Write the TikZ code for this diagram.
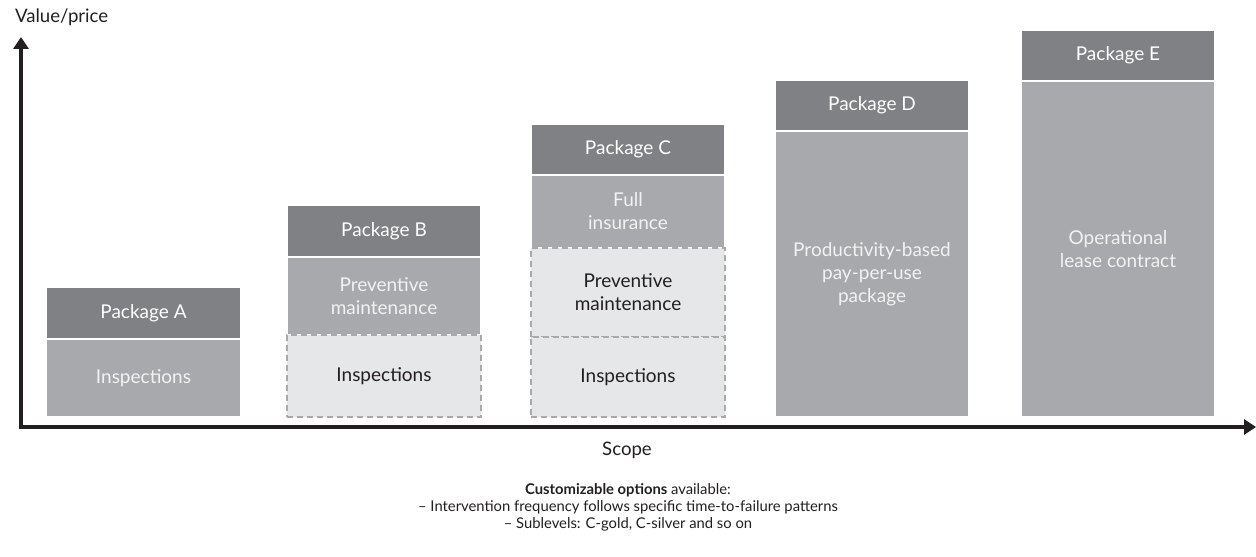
\documentclass[tikz,border=0pt]{standalone}
\usepackage{fontspec}
\setmainfont{Lato}
\usepackage{tikz}
\usetikzlibrary{arrows.meta}
\definecolor{pkgdark}{HTML}{808184}
\definecolor{pkgmid}{HTML}{A7A9AC}
\definecolor{pkglight}{HTML}{E6E7E8}
\definecolor{axisink}{HTML}{231F20}
\tikzset{
  pkghead/.style={rectangle,inner sep=0pt,minimum width=97pt,fill=pkgdark,draw=white,line width=0.6pt,text=white,font=\fontsize{9.5}{11.5}\selectfont},
  pkgbody/.style={pkghead,fill=pkgmid,text=white!95!black,align=center},
  pkgbase/.style={rectangle,inner sep=0pt,minimum width=97pt,fill=pkglight,draw=pkgmid,dash pattern=on 3pt off 2pt,line width=0.6pt,text=axisink,align=center,font=\fontsize{9.5}{11.5}\selectfont},
  axisline/.style={draw=axisink,line width=1.6pt,{Triangle[length=6pt,width=7.5pt]}-{Triangle[length=6pt,width=7.5pt]}},
  plaintext/.style={text=axisink,font=\fontsize{9.3}{11}\selectfont},
  notetext/.style={text=axisink,align=center,font=\fontsize{7.4}{8.5}\selectfont}
}
\begin{document}
\begin{tikzpicture}[x=0.5pt,y=-0.5pt]
  \useasboundingbox (0,0) rectangle (1256,556);

  % axes
  \coordinate (ytop) at (21,37);
  \coordinate (origin) at (21,427);
  \coordinate (xend) at (1256,427);
  \draw[axisline] (ytop) -- (origin) -- (xend);
  \node[plaintext,anchor=west] (ylabel) at (8,17) {Value/price};
  \node[plaintext] (xlabel) at (627,450) {Scope};

  % package A
  \node[pkghead,minimum height=26pt] (headA) at (143.5,313) {Package A};
  \node[pkgbody,minimum height=39pt] (bodyA) at (143.5,378) {Inspections};

  % package B
  \node[pkghead,minimum height=26pt] (headB) at (384,231) {Package B};
  \node[pkgbody,minimum height=39pt] (prevB) at (384,296) {Preventive\\maintenance};
  \node[pkgbase,minimum height=41pt] (inspB) at (384,376) {Inspections};

  % package C
  \node[pkghead,minimum height=25.5pt] (headC) at (628,149.5) {Package C};
  \node[pkgbody,minimum height=36.5pt] (fullC) at (628,211.5) {Full\\insurance};
  \node[pkgbase,minimum height=44.5pt] (prevC) at (628,292.5) {Preventive\\maintenance};
  \node[pkgbase,minimum height=40pt] (inspC) at (628,377) {Inspections};

  % package D
  \node[pkghead,minimum height=25.5pt] (headD) at (872,105.5) {Package D};
  \node[pkgbody,minimum height=143pt] (bodyD) at (872,274) {Productivity-based\\pay-per-use\\package};

  % package E
  \node[pkghead,minimum height=25.5pt] (headE) at (1118,55.5) {Package E};
  \node[pkgbody,minimum height=168pt] (bodyE) at (1118,249) {Operational\\lease contract};

  % options
  \node[notetext] (options) at (628,507) {\textbf{Customizable options} available:\\
    – Intervention frequency follows specific time-to-failure patterns\\
    – Sublevels: C-gold, C-silver and so on};
\end{tikzpicture}
\end{document}
